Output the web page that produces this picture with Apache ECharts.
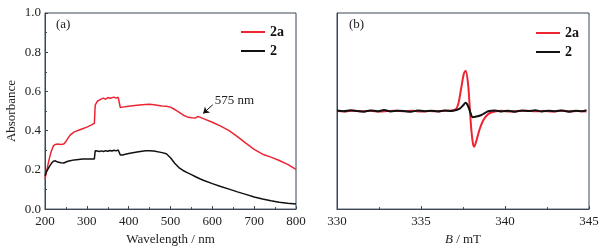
<!DOCTYPE html>
<html>
<head>
<meta charset="utf-8">
<script src="https://cdn.jsdelivr.net/npm/echarts@6/dist/echarts.min.js"></script>
<style>
  html, body { margin: 0; padding: 0; background: #fff; }
  #chart { width: 603px; height: 251px; }
</style>
</head>
<body>
<div id="chart"></div>
<script>
// (a) UV-vis absorbance
const wavelength = [200, 203, 206, 210, 215, 220, 225, 230, 238, 245, 250, 255, 260, 270, 280, 290, 300, 310, 318, 320, 322, 325, 330, 335, 340, 345, 350, 355, 360, 365, 370, 375, 378, 380, 385, 400, 420, 440, 450, 460, 480, 490, 500, 510, 520, 530, 540, 550, 560, 565, 570, 580, 600, 620, 640, 660, 680, 700, 720, 740, 760, 780, 800];
const abs2a = [0.153, 0.185, 0.215, 0.255, 0.295, 0.322, 0.330, 0.332, 0.330, 0.332, 0.345, 0.362, 0.377, 0.394, 0.402, 0.410, 0.418, 0.428, 0.437, 0.530, 0.540, 0.550, 0.556, 0.562, 0.566, 0.560, 0.569, 0.565, 0.568, 0.571, 0.566, 0.570, 0.570, 0.518, 0.520, 0.525, 0.530, 0.534, 0.535, 0.532, 0.526, 0.524, 0.520, 0.508, 0.495, 0.480, 0.470, 0.466, 0.465, 0.472, 0.469, 0.460, 0.443, 0.423, 0.400, 0.370, 0.336, 0.305, 0.280, 0.265, 0.248, 0.228, 0.203];
const abs2 = [0.170, 0.188, 0.200, 0.215, 0.232, 0.244, 0.246, 0.240, 0.236, 0.235, 0.240, 0.244, 0.247, 0.251, 0.253, 0.255, 0.256, 0.256, 0.256, 0.297, 0.293, 0.296, 0.294, 0.297, 0.294, 0.298, 0.295, 0.299, 0.296, 0.300, 0.297, 0.301, 0.299, 0.276, 0.276, 0.283, 0.291, 0.297, 0.298, 0.296, 0.288, 0.282, 0.262, 0.234, 0.212, 0.197, 0.186, 0.176, 0.165, 0.160, 0.155, 0.146, 0.130, 0.115, 0.102, 0.088, 0.075, 0.062, 0.052, 0.043, 0.035, 0.030, 0.026];

// (b) EPR
const field2a = [330, 330.5, 331, 331.5, 332, 332.5, 333, 333.5, 334, 334.5, 335, 335.5, 336, 336.5, 337, 337.2, 337.4, 337.55, 337.66, 337.8, 337.9, 338.0, 338.1, 338.17, 338.3, 338.5, 338.7, 338.9, 339.1, 339.4, 339.8, 340.3, 340.8, 341.3, 341.8, 342.3, 342.8, 343.3, 343.8, 344.3, 344.85];
const epr2a = [0.500, 0.498, 0.502, 0.499, 0.501, 0.498, 0.500, 0.502, 0.499, 0.501, 0.498, 0.500, 0.499, 0.501, 0.506, 0.530, 0.620, 0.690, 0.706, 0.640, 0.520, 0.400, 0.330, 0.318, 0.350, 0.410, 0.452, 0.476, 0.490, 0.498, 0.501, 0.498, 0.500, 0.502, 0.499, 0.500, 0.498, 0.501, 0.499, 0.500, 0.498];
const field2 = [330, 330.4, 330.8, 331.2, 331.6, 332, 332.4, 332.8, 333.2, 333.6, 334, 334.4, 334.8, 335.2, 335.6, 336, 336.4, 336.8, 337.1, 337.3, 337.5, 337.66, 337.8, 337.95, 338.08, 338.3, 338.6, 338.8, 339.0, 339.4, 339.8, 340.2, 340.6, 341, 341.4, 341.8, 342.2, 342.6, 343, 343.4, 343.8, 344.2, 344.6, 344.85];
const epr2 = [0.503, 0.499, 0.504, 0.500, 0.497, 0.503, 0.499, 0.505, 0.498, 0.502, 0.500, 0.496, 0.503, 0.499, 0.502, 0.498, 0.503, 0.500, 0.505, 0.512, 0.528, 0.542, 0.526, 0.490, 0.468, 0.472, 0.480, 0.490, 0.499, 0.503, 0.498, 0.502, 0.497, 0.503, 0.500, 0.504, 0.498, 0.502, 0.499, 0.503, 0.497, 0.502, 0.499, 0.505];

const seriesNames = ['2a', '2'];
const panelLabels = ['(a)', '(b)'];
const redColor = '#ee2433';
const blackColor = '#111111';
const axisColor = '#3b4754';
const font = "'Liberation Serif', 'Times New Roman', Times, serif";

const pair = (xs, ys) => xs.map((x, i) => [x, ys[i]]);

const chart = echarts.init(document.getElementById('chart'), null, { renderer: 'canvas' });

const axisCommon = {
  axisLine: { show: true, onZero: false, lineStyle: { color: axisColor, width: 1 } },
  axisTick: { show: true, inside: true, length: 3, lineStyle: { color: axisColor } },
  minorTick: { show: true, splitNumber: 2, length: 2, lineStyle: { color: axisColor } },
  splitLine: { show: false },
  axisLabel: { color: '#222', fontFamily: font, fontSize: 13 }
};

const option = {
  animation: false,
  textStyle: { fontFamily: font },
  title: [
    { text: panelLabels[0], left: 56, top: 18, padding: 0, textStyle: { fontFamily: font, fontSize: 13, fontWeight: 'normal', color: '#222' } },
    { text: panelLabels[1], left: 349, top: 18, padding: 0, textStyle: { fontFamily: font, fontSize: 13, fontWeight: 'normal', color: '#222' } }
  ],
  grid: [
    { left: 45, right: 307, top: 13, bottom: 37, show: true, borderColor: axisColor, borderWidth: 1 },
    { left: 337, right: 14, top: 13, bottom: 37, show: true, borderColor: axisColor, borderWidth: 1 }
  ],
  legend: [
    {
      data: seriesNames.map(n => ({ name: n })),
      left: 236, top: 20, orient: 'vertical', itemGap: 5,
      itemWidth: 24, itemHeight: 2, icon: 'rect',
      textStyle: { fontFamily: font, fontWeight: 'bold', fontSize: 14, color: '#111' },
      selectedMode: false
    },
    {
      data: seriesNames.map(n => ({ name: n + ' ' })),
      left: 531, top: 21, orient: 'vertical', itemGap: 5,
      itemWidth: 24, itemHeight: 2, icon: 'rect',
      textStyle: { fontFamily: font, fontWeight: 'bold', fontSize: 14, color: '#111' },
      formatter: n => n.trim(),
      selectedMode: false
    }
  ],
  xAxis: [
    Object.assign({}, axisCommon, {
      gridIndex: 0, type: 'value', min: 200, max: 800, interval: 100,
      name: 'Wavelength / nm', nameLocation: 'middle', nameGap: 19,
      nameTextStyle: { fontFamily: font, fontSize: 13, color: '#222' },
      axisLabel: Object.assign({}, axisCommon.axisLabel, { margin: 6 })
    }),
    Object.assign({}, axisCommon, {
      gridIndex: 1, type: 'value', min: 330, max: 345, interval: 5,
      name: '{i|B} / mT', nameLocation: 'middle', nameGap: 19,
      nameTextStyle: { fontFamily: font, fontSize: 13, color: '#222', rich: { i: { fontStyle: 'italic', fontFamily: font, fontSize: 13 } } },
      axisLabel: Object.assign({}, axisCommon.axisLabel, { margin: 6 })
    })
  ],
  yAxis: [
    Object.assign({}, axisCommon, {
      gridIndex: 0, type: 'value', min: 0, max: 1, interval: 0.2,
      name: 'Absorbance', nameLocation: 'middle', nameGap: 27, nameRotate: 90,
      nameTextStyle: { fontFamily: font, fontSize: 13, color: '#222' },
      axisLabel: Object.assign({}, axisCommon.axisLabel, { margin: 4, formatter: v => v.toFixed(1) })
    }),
    Object.assign({}, axisCommon, {
      gridIndex: 1, type: 'value', min: 0, max: 1,
      axisTick: { show: false }, minorTick: { show: false },
      axisLabel: { show: false }
    })
  ],
  series: [
    {
      name: '2a', type: 'line', xAxisIndex: 0, yAxisIndex: 0,
      data: pair(wavelength, abs2a), showSymbol: false,
      lineStyle: { color: redColor, width: 1.5 }, itemStyle: { color: redColor },
      markLine: {
        silent: true, symbol: ['none', 'arrow'], symbolSize: 6,
        label: { show: false },
        lineStyle: { color: '#111', width: 1, type: 'solid' },
        data: [[{ coord: [601, 0.532] }, { coord: [578, 0.488] }]]
      },
      markPoint: {
        silent: true, symbol: 'circle', symbolSize: 0,
        label: { show: true, position: 'right', distance: 0, formatter: '575 nm', color: '#222', fontFamily: font, fontSize: 13 },
        data: [{ coord: [606, 0.553] }]
      }
    },
    {
      name: '2', type: 'line', xAxisIndex: 0, yAxisIndex: 0,
      data: pair(wavelength, abs2), showSymbol: false,
      lineStyle: { color: blackColor, width: 1.5 }, itemStyle: { color: blackColor }
    },
    {
      name: '2a ', type: 'line', xAxisIndex: 1, yAxisIndex: 1,
      data: pair(field2a, epr2a), showSymbol: false, smooth: 0.3,
      lineStyle: { color: redColor, width: 2 }, itemStyle: { color: redColor }
    },
    {
      name: '2 ', type: 'line', xAxisIndex: 1, yAxisIndex: 1,
      data: pair(field2, epr2), showSymbol: false, smooth: 0.3,
      lineStyle: { color: blackColor, width: 2 }, itemStyle: { color: blackColor }
    }
  ]
};

chart.setOption(option);
</script>
</body>
</html>
